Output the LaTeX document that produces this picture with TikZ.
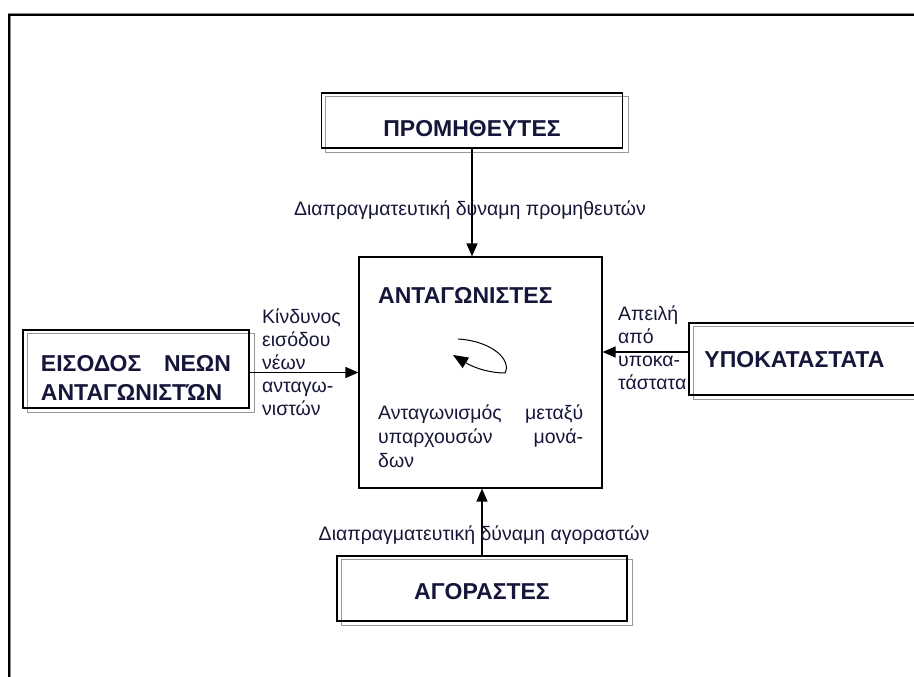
\documentclass[tikz,border=0pt]{standalone}
\usepackage{fontspec}
\setmainfont{Liberation Sans}
\usetikzlibrary{arrows.meta,backgrounds}
\definecolor{ink}{RGB}{22,22,58}
\begin{document}
\begin{tikzpicture}[x=1pt,y=-1pt,
  lbl/.style={font=\fontsize{19.5}{23}\selectfont, text=ink, inner sep=0pt},
  ttl/.style={font=\bfseries\fontsize{23}{29}\selectfont, text=ink, inner sep=0pt},
  box/.style={draw=black, line width=1.5pt, inner sep=0pt},
  shade/.style={draw=black!40, line width=1.2pt},
  arr/.style={line width=1.3pt, -{Triangle[length=13pt,width=11pt]}},
]
\useasboundingbox (0,0) rectangle (914,677);

% page frame running off the right and bottom edges
\draw[black!45, line width=3pt] (9,700) |- (930,15);
\draw[black, line width=1.2pt] (9,700) |- (930,15);

% the five forces
\node[box, minimum width=301, minimum height=55,
      label={[ttl, yshift=-8]center:ΠΡΟΜΗΘΕΥΤΕΣ}] (prom) at (472,120.5) {};
\node[draw=black, line width=1.2pt, minimum width=243, minimum height=231] (ant) at (480.5,372.5) {};
\node[box, minimum width=290, minimum height=65,
      label={[ttl, yshift=-3]center:ΑΓΟΡΑΣΤΕΣ}] (agor) at (482,588.5) {};
\node[box, minimum width=226, minimum height=78,
      label={[ttl, text width=190, align=left, yshift=-9]center:ΕΙΣΟΔΟΣ\hfill ΝΕΩΝ\\ΑΝΤΑΓΩΝΙΣΤΏΝ}] (eis) at (136,369) {};
\node[box, minimum width=231, minimum height=72,
      label={[ttl, anchor=west, xshift=16, yshift=-1]west:ΥΠΟΚΑΤΑΣΤΑΤΑ}] (ypok) at (804.5,359) {};

% offset grey outlines behind the framed boxes
\begin{scope}[on background layer]
  \foreach \b in {prom,agor,eis,ypok}
    \draw[shade] ([shift={(5,4)}]\b.north west) rectangle ([shift={(5,4)}]\b.south east);
\end{scope}

% inside the central box
\node[ttl, anchor=west] (antt) at (378,295) {ΑΝΤΑΓΩΝΙΣΤΕΣ};
\node[lbl, anchor=north west, text width=205, align=left, font=\fontsize{19.5}{24}\selectfont] (antd) at (378,405)
  {Ανταγωνισμός\hfill μεταξύ\\υπαρχουσών\hfill μονά-\\δων};
\draw[line width=1pt, -{Triangle[length=15pt,width=12pt]}]
  (458,339) .. controls (492,341) and (512,360) .. (505,373)
            .. controls (492,373) and (476,369) .. (453,355);

% arrows into the central box
\draw[arr] (prom.south) -- (prom.south |- ant.north);
\draw[arr] (agor.north) -- (agor.north |- ant.south);
\draw[arr] (eis.east |- ant.west) -- (ant.west);
\draw[arr] ([yshift=7]ypok.west) -- ([yshift=7]ypok.west -| ant.east);

% arrow labels
\node[lbl] (plab) at (470,210) {Διαπραγματευτική δύναμη προμηθευτών};
\node[lbl] (alab) at (484,535) {Διαπραγματευτική δύναμη αγοραστών};
\node[lbl, anchor=north west, align=left] (elab) at (262,309)
  {Κίνδυνος\\εισόδου\\νέων\\ανταγω-\\νιστών};
\node[lbl, anchor=north west, align=left] (ylab) at (618,306)
  {Απειλή\\από\\υποκα-\\τάστατα};
\end{tikzpicture}
\end{document}
